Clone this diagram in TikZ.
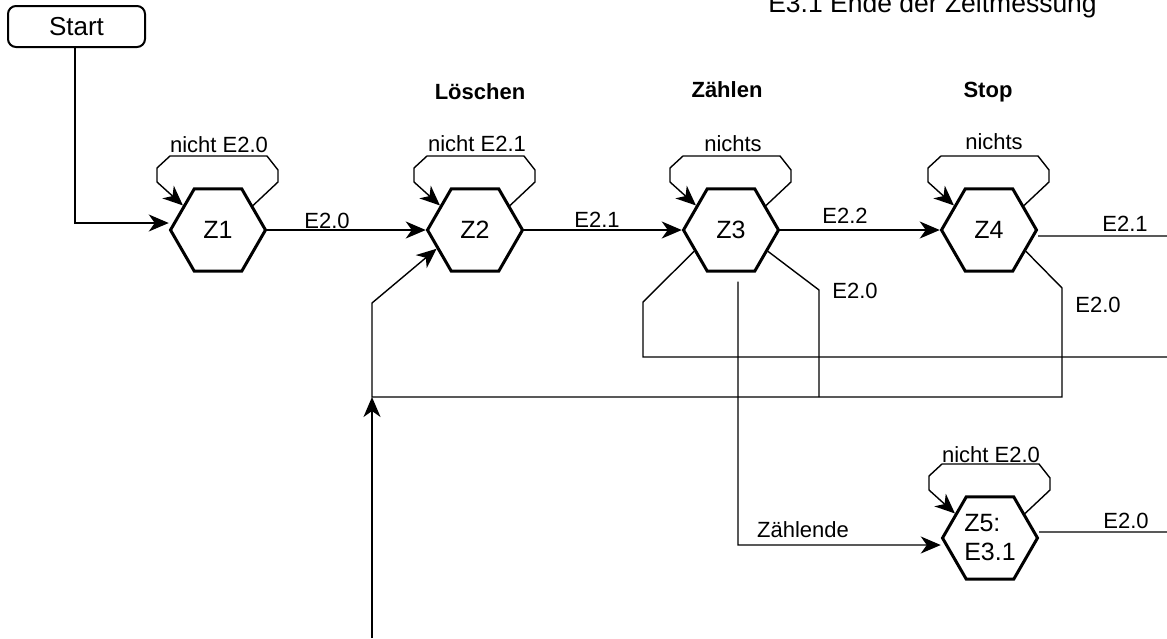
\documentclass[tikz,border=0pt]{standalone}
\usepackage{fontspec}
\setmainfont{Liberation Sans}
\usetikzlibrary{arrows.meta,shapes.geometric,calc}
\newcommand\drawselfloop[1]{%
  \draw[thinarr] (#1.35) -- ($(#1.center)+(60,-48)$) -- ($(#1.center)+(60,-60)$)
    -- ($(#1.center)+(49,-74)$) -- ($(#1.center)+(-48,-74)$) -- ($(#1.center)+(-61,-62)$)
    -- ($(#1.center)+(-61,-48)$) -- (#1.145);}
\begin{document}
\begin{tikzpicture}[x=1pt,y=-1pt,
  hex/.style={draw, line width=3pt, regular polygon, regular polygon sides=6,
    minimum size=95pt, inner sep=0pt, font=\fontsize{25}{29}\selectfont},
  tip/.style={-{Stealth[length=20pt,width=17pt,inset=6pt]}},
  thickarr/.style={line width=2pt, tip},
  thinarr/.style={line width=1.4pt, tip},
  thinline/.style={line width=1.4pt},
  lbl/.style={anchor=base, inner sep=0pt, font=\fontsize{22}{26}\selectfont},
  blbl/.style={anchor=base, inner sep=0pt, font=\fontsize{22}{26}\selectfont\bfseries},
  startbox/.style={draw, line width=2pt, rounded corners=8pt, minimum width=137pt,
    minimum height=41pt, inner sep=0pt, font=\fontsize{26}{30}\selectfont}]
\useasboundingbox (0,0) rectangle (1167,638);

% title (partly cut off at the top)
\node[anchor=base, inner sep=0pt, font=\fontsize{26.5}{30}\selectfont] (title) at (932.5,12) {E3.1 Ende der Zeitmessung};

% start
\node[startbox] (start) at (76.5,26.5) {Start};

% states
\node[hex] (Z1) at (218,230) {Z1\hspace{16pt}};
\node[hex] (Z2) at (475,230) {Z2};
\node[hex] (Z3) at (731,230) {Z3};
\node[hex] (Z4) at (989,230) {Z4};
\node[hex, align=left] (Z5) at (990,538) {Z5:\\E3.1};

% state names
\node[blbl] (nLoeschen) at (480,99) {Löschen};
\node[blbl] (nZaehlen) at (727,97) {Zählen};
\node[blbl] (nStop) at (988,97) {Stop};

% self loops
\drawselfloop{Z1}
\drawselfloop{Z2}
\drawselfloop{Z3}
\drawselfloop{Z4}
\drawselfloop{Z5}
\node[lbl] (s1) at (219,152) {nicht E2.0};
\node[lbl] (s2) at (477,151) {nicht E2.1};
\node[lbl] (s3) at (733,151) {nichts};
\node[lbl] (s4) at (994,149) {nichts};
\node[lbl] (s5) at (991,462) {nicht E2.0};

% free ends
\coordinate (r1) at (1167,236);
\coordinate (r2) at (1167,357);
\coordinate (r3) at (1167,532);
\coordinate (b) at (372,638);
\coordinate (j) at (372,397);

% start arrow
\draw[thinarr] ([xshift=-1.5pt]start.south) |- ([yshift=7pt]Z1.west);

% main transitions
\draw[thickarr] (Z1.east) -- (Z2.west);
\draw[thickarr] (Z2.east) -- (Z3.west);
\draw[thickarr] (Z3.east) -- (Z4.west);
\draw[thinline] ([yshift=-6pt]Z4.east) -- (r1);
\draw[thinline] ([yshift=6pt]Z5.east) -- (r3);

% branches
\draw[thinline] (Z3.210) -- (643,302) -- (643,357) -- (r2);
\draw[thinline] (Z3.330) -- (819,290) -- (819,397);
\draw[thinarr] (Z4.330) -- (1062,288) -- (1062,397) -- (j) -- (372,303) -- (Z2.206);
\draw[thinarr] (b) -- (j);
\draw[thinarr] ([xshift=7pt,yshift=-9pt]Z3.south) -- (738,545) -- ([yshift=-7pt]Z5.west);

% edge labels
\node[lbl] (e1) at (327,228) {E2.0};
\node[lbl] (e2) at (597,227) {E2.1};
\node[lbl] (e3) at (845,223) {E2.2};
\node[lbl] (e4) at (1125,231) {E2.1};
\node[lbl] (e5) at (855,298) {E2.0};
\node[lbl] (e6) at (1098,312) {E2.0};
\node[lbl] (e7) at (803,537) {Zählende};
\node[lbl] (e8) at (1126,528) {E2.0};
\end{tikzpicture}
\end{document}
